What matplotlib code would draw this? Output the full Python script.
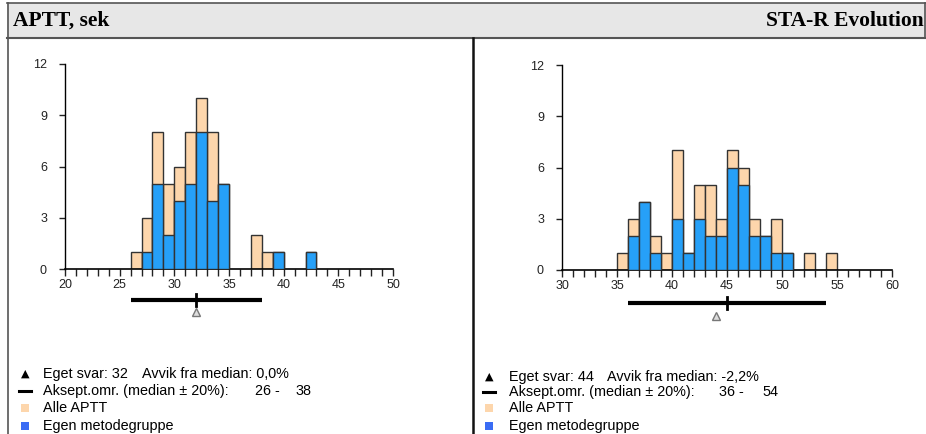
import numpy as np
import matplotlib
matplotlib.use("Agg")
import matplotlib.pyplot as plt
from matplotlib.lines import Line2D
from matplotlib.patches import Rectangle

# data (bin start, count) - bins are 1 sec wide
left_bins = [26, 27, 28, 29, 30, 31, 32, 33, 34, 37, 38, 39, 42]
left_all = [1, 3, 8, 5, 6, 8, 10, 8, 5, 2, 1, 1, 1]
left_own = [0, 1, 5, 2, 4, 5, 8, 4, 5, 0, 0, 1, 1]
left_range = [26, 38]
left_median = 32
left_answer = 32

right_bins = [35, 36, 37, 38, 39, 40, 41, 42, 43, 44, 45, 46, 47, 48, 49, 50, 52, 54]
right_all = [1, 3, 4, 2, 1, 7, 1, 5, 5, 3, 7, 6, 3, 2, 3, 1, 1, 1]
right_own = [0, 2, 4, 1, 0, 3, 1, 3, 2, 2, 6, 5, 2, 2, 1, 1, 0, 0]
right_range = [36, 54]
right_median = 45
right_answer = 44

W, H = 926, 434
PEACH = "#fdd6ac"
BLUE = "#26a0f8"
LEG_BLUE = "#3a6cf4"
SANS = "Liberation Sans"

fig = plt.figure(figsize=(W / 100, H / 100), dpi=100)
fig.patch.set_facecolor("white")


def fx(px):
    return px / W


def fy(py):
    return 1 - py / H


def fline(x0, y0, x1, y1, lw=1.5, color="#555555"):
    fig.add_artist(Line2D([fx(x0), fx(x1)], [fy(y0), fy(y1)], lw=lw, color=color,
                          transform=fig.transFigure))


# header band
fig.add_artist(Rectangle((fx(7), fy(38)), fx(926 - 7), fy(3) - fy(38),
                         transform=fig.transFigure, facecolor="#e7e7e7", edgecolor="none"))
fline(7, 3, 926, 3, lw=1.2)
fline(7, 38, 926, 38, lw=1.5)
fline(7.5, 3, 7.5, 434, lw=1.2)
fline(924.5, 3, 924.5, 38, lw=1.2)
fline(473, 38, 473, 434, lw=1.8, color="#111111")

fig.text(fx(13), fy(21), "APTT, sek", family="Liberation Serif", weight="bold",
         fontsize=15.5, va="center", ha="left")
fig.text(fx(924), fy(21), "STA-R Evolution", family="Liberation Serif", weight="bold",
         fontsize=15.5, va="center", ha="right")


def histo(rect, bins, n_all, n_own, xmin, rng, median, answer, bar_y, tri_y):
    ax = fig.add_axes(rect)
    ax.bar(bins, n_all, width=1, align="edge", color=PEACH, edgecolor="#333333", lw=1, zorder=2)
    ax.bar(bins, n_own, width=1, align="edge", color=BLUE, edgecolor="#333333", lw=1, zorder=3)
    ax.set_xlim(xmin, xmin + 30)
    ax.set_ylim(0, 12)
    for s in ["top", "right"]:
        ax.spines[s].set_visible(False)
    ax.spines["left"].set_linewidth(1)
    ax.spines["bottom"].set_linewidth(1.2)
    ax.set_yticks([0, 3, 6, 9, 12])
    xt = list(range(xmin, xmin + 31))
    ax.set_xticks(xt)
    ax.set_xticklabels([str(v) if v % 5 == 0 else "" for v in xt])
    ax.tick_params(axis="x", length=5, width=1, pad=2, labelsize=9, colors="#222222")
    ax.tick_params(axis="y", length=4, width=1, pad=9, labelsize=9, colors="#222222")
    for lab in ax.get_xticklabels() + ax.get_yticklabels():
        lab.set_family(SANS)
    # acceptance range, median tick and own answer
    ax.plot(rng, [bar_y, bar_y], color="black", lw=3, clip_on=False, solid_capstyle="butt")
    ax.plot([median, median], [bar_y - 0.35, bar_y + 0.35], color="black", lw=2, clip_on=False)
    ax.plot([answer], [tri_y], marker="^", ms=6, mfc="#dddddd", mec="#777777", mew=1,
            clip_on=False, ls="none")
    return ax


histo([fx(65), fy(269), fx(393) - fx(65), fy(64) - fy(269)],
      left_bins, left_all, left_own, 20, left_range, left_median, left_answer, -1.8, -2.5)
histo([fx(562), fy(270), fx(892) - fx(562), fy(65) - fy(270)],
      right_bins, right_all, right_own, 30, right_range, right_median, right_answer, -1.95, -2.7)


def legend(xs, xt, rows_y, answer, dev, lo, hi, x_dev, x_lo, x_hi):
    fs = 10.4
    fig.text(fx(xs), fy(rows_y[0]), "\u25b2", family="DejaVu Sans", fontsize=8,
             ha="center", va="center")
    fig.text(fx(xt), fy(rows_y[0]), "Eget svar: %d" % answer, family=SANS, fontsize=fs, va="center")
    fig.text(fx(x_dev), fy(rows_y[0]), "Avvik fra median: %s" % dev, family=SANS, fontsize=fs,
             va="center")
    fline(xs - 6, rows_y[1], xs + 6, rows_y[1], lw=2.2, color="black")
    fig.text(fx(xt), fy(rows_y[1]), "Aksept.omr. (median \u00b1 20%):", family=SANS, fontsize=fs,
             va="center")
    fig.text(fx(x_lo), fy(rows_y[1]), "%d -" % lo, family=SANS, fontsize=fs, va="center")
    fig.text(fx(x_hi), fy(rows_y[1]), "%d" % hi, family=SANS, fontsize=fs, va="center")
    for y, c, t in [(rows_y[2], PEACH, "Alle APTT"), (rows_y[3], LEG_BLUE, "Egen metodegruppe")]:
        fig.add_artist(Rectangle((fx(xs - 4), fy(y + 4)), fx(8), fy(0) - fy(8),
                                 transform=fig.transFigure, facecolor=c, edgecolor="none"))
        fig.text(fx(xt), fy(y), t, family=SANS, fontsize=fs, va="center")


legend(25, 43, [374, 391, 408, 426], left_answer, "0,0%", left_range[0], left_range[1], 142, 255, 295)
legend(489, 509, [377, 392, 408, 426], right_answer, "-2,2%", right_range[0], right_range[1], 607, 719, 762)

fig.savefig("out.png", dpi=100)
